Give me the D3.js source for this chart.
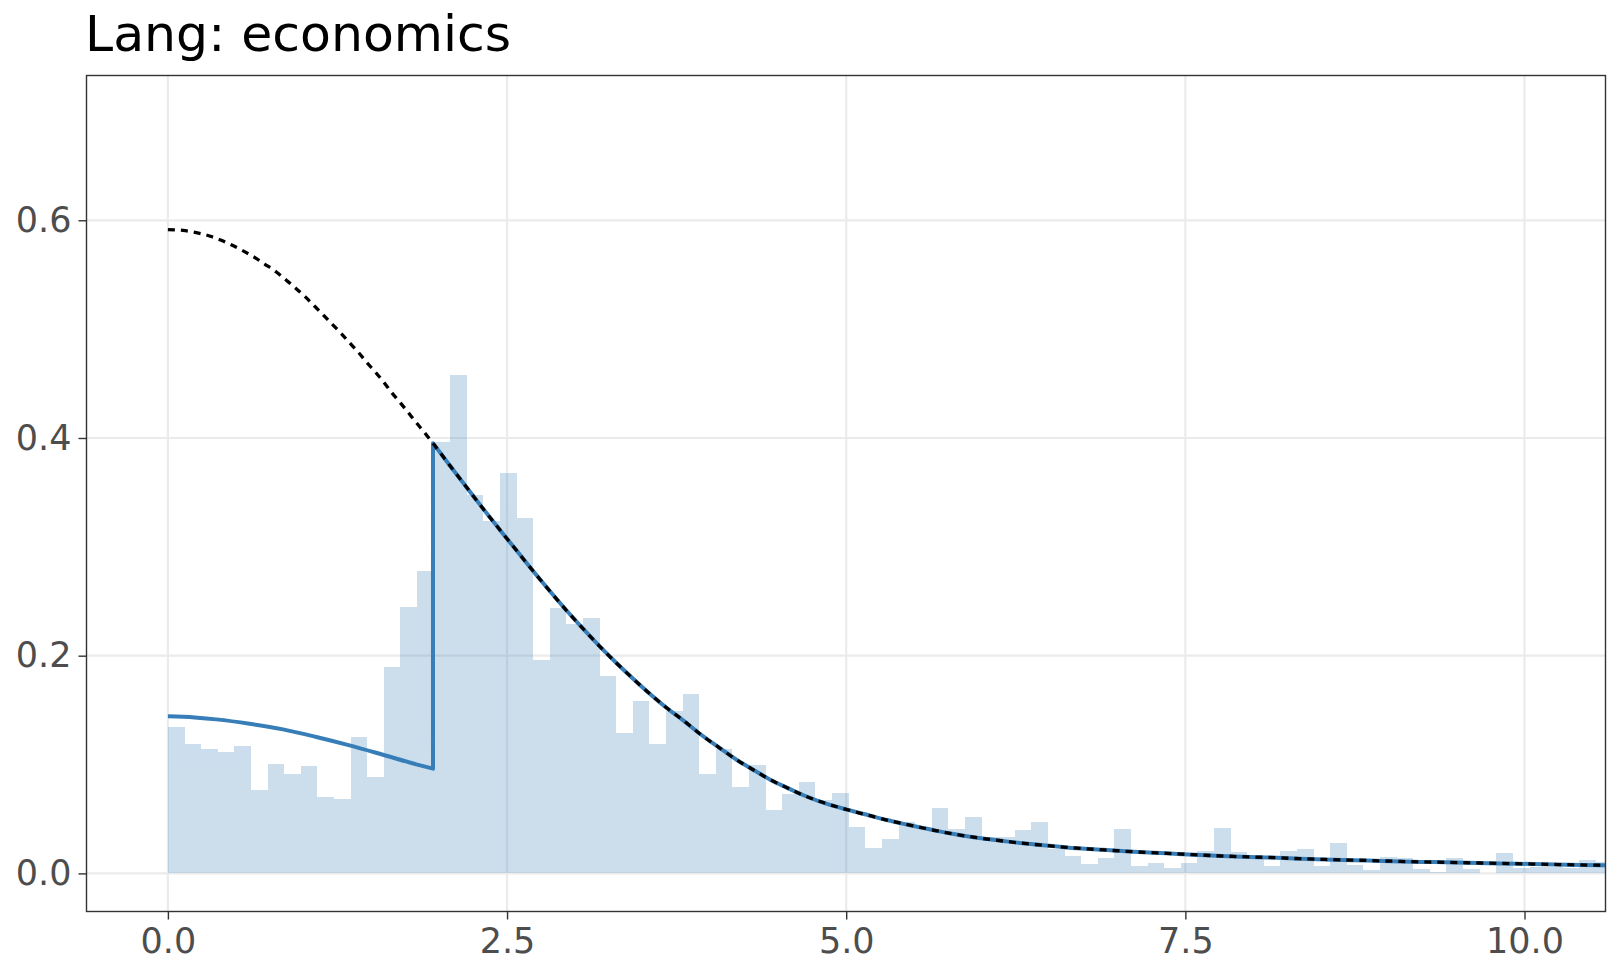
<!DOCTYPE html>
<html lang="en">
<head>
<meta charset="UTF-8">
<title>Lang: economics</title>
<script src="https://d3js.org/d3.v7.min.js"></script>
<style>
    body { margin: 0; background: #fff; }
    svg { display: block; font-family: "DejaVu Sans", sans-serif; }
    .axis path { display: none; }
    .axis line { stroke: #333333; stroke-width: 1.4px; }
    .axis text { fill: #4D4D4D; font-size: 35px; font-family: "DejaVu Sans", sans-serif; }
    .grid line { stroke: #EBEBEB; stroke-width: 2.2px; }
</style>
</head>
<body>
<script>
// histogram heights (density), one per bin starting at 0
const binWidth = 0.1224;
const histDensity = [
    0.1345, 0.1185, 0.1142, 0.1112, 0.1167, 0.0763, 0.1002, 0.0910, 0.0983, 0.0698,
    0.0680, 0.1250, 0.0885, 0.1893, 0.2447, 0.2778, 0.3960, 0.4579, 0.3473, 0.3234,
    0.3675, 0.3262, 0.1957, 0.2438, 0.2288, 0.2346, 0.1810, 0.1286, 0.1583, 0.1185,
    0.1492, 0.1645, 0.0917, 0.1147, 0.0798, 0.1000, 0.0587, 0.0734, 0.0841, 0.0670,
    0.0740, 0.0428, 0.0236, 0.0318, 0.0474, 0.0410, 0.0603, 0.0410, 0.0520, 0.0330,
    0.0334, 0.0398, 0.0472, 0.0221, 0.0159, 0.0086, 0.0141, 0.0407, 0.0067, 0.0095,
    0.0049, 0.0095, 0.0205, 0.0417, 0.0196, 0.0159, 0.0070, 0.0205, 0.0224, 0.0070,
    0.0279, 0.0080, 0.0034, 0.0150, 0.0138, 0.0043, 0.0009, 0.0141, 0.0043, 0.0006,
    0.0187, 0.0046, 0.0058, 0.0058, 0.0052, 0.0123, 0.0104
];

// dotted reference density
const fullX = [
    0, 0.111, 0.209, 0.307, 0.393, 0.479, 0.565, 0.639, 0.713, 0.799,
    0.873, 0.946, 1.013, 1.082, 1.143, 1.212, 1.278, 1.340, 1.406, 1.468,
    1.529, 1.586, 1.642, 1.704, 1.765, 1.827, 1.888, 1.954, 2.077, 2.200,
    2.323, 2.446, 2.569, 2.692, 2.815, 2.937, 3.060, 3.183, 3.306, 3.429,
    3.552, 3.675, 3.798, 3.921, 4.071, 4.194, 4.317, 4.440, 4.562, 4.685,
    4.808, 5.000, 5.177, 5.300, 5.423, 5.546, 5.669, 5.792, 5.914, 6.037,
    6.160, 6.283, 6.379, 6.625, 6.870, 7.116, 7.362, 7.608, 7.854, 8.100,
    8.345, 8.591, 8.837, 9.083, 9.328, 9.574, 9.820, 10.066, 10.312, 10.597
];
const fullY = [
    0.5914, 0.5907, 0.5887, 0.5856, 0.5817, 0.5768, 0.5712, 0.5659, 0.5598, 0.5525,
    0.5449, 0.5372, 0.5296, 0.5210, 0.5133, 0.5044, 0.4959, 0.4873, 0.4784, 0.4692,
    0.4606, 0.4521, 0.4429, 0.4337, 0.4245, 0.4147, 0.4055, 0.3952, 0.3749, 0.3550,
    0.3351, 0.3158, 0.2968, 0.2778, 0.2594, 0.2417, 0.2248, 0.2086, 0.1933, 0.1789,
    0.1651, 0.1522, 0.1406, 0.1283, 0.1149, 0.1042, 0.0950, 0.0861, 0.0788, 0.0718,
    0.0660, 0.0588, 0.0530, 0.0490, 0.0455, 0.0423, 0.0391, 0.0362, 0.0337, 0.0316,
    0.0297, 0.0279, 0.0267, 0.0239, 0.0218, 0.0199, 0.0184, 0.0169, 0.0156, 0.0147,
    0.0135, 0.0126, 0.0119, 0.0110, 0.0104, 0.0098, 0.0092, 0.0086, 0.0080, 0.0074
];

// fitted density below the cut point (blue)
const cutPoint = 1.954;
const lowX = [0, 0.110, 0.356, 0.602, 0.848, 1.094, 1.339, 1.585, 1.831, 1.954];
const lowY = [0.1443, 0.1440, 0.1415, 0.1375, 0.1323, 0.1253, 0.1176, 0.1090, 0.1002, 0.0962];

const xTicks = [0, 2.5, 5, 7.5, 10];
const xTickLabels = ["0.0", "2.5", "5.0", "7.5", "10.0"];
const yTicks = [0, 0.2, 0.4, 0.6];
const yTickLabels = ["0.0", "0.2", "0.4", "0.6"];

const width = 1620, height = 972;
const panel = {left: 86.5, right: 1605.5, top: 75.5, bottom: 911.5};

const svg = d3.select("body").append("svg")
    .attr("width", width)
    .attr("height", height)
    .attr("viewBox", `0 0 ${width} ${height}`);

const x = d3.scaleLinear().domain([-0.6, 10.597]).range([panel.left, panel.right]);
const y = d3.scaleLinear().domain([-0.035, 0.733]).range([panel.bottom, panel.top]);

svg.append("defs").append("clipPath").attr("id", "panelClip")
    .append("rect")
    .attr("x", panel.left).attr("y", panel.top)
    .attr("width", panel.right - panel.left)
    .attr("height", panel.bottom - panel.top);

// gridlines
const grid = svg.append("g").attr("class", "grid");
grid.selectAll(".gx").data(xTicks).enter().append("line")
    .attr("x1", d => x(d)).attr("x2", d => x(d))
    .attr("y1", panel.top).attr("y2", panel.bottom);
grid.selectAll(".gy").data(yTicks).enter().append("line")
    .attr("x1", panel.left).attr("x2", panel.right)
    .attr("y1", d => y(d)).attr("y2", d => y(d));

const plot = svg.append("g").attr("clip-path", "url(#panelClip)");

// histogram
plot.append("g")
    .attr("opacity", 0.25)
    .selectAll("rect")
    .data(histDensity)
    .enter()
    .append("rect")
    .attr("shape-rendering", "crispEdges")
    .attr("fill", "#377EB8")
    .attr("x", (d, i) => x(i * binWidth))
    .attr("width", (d, i) => x((i + 1) * binWidth) - x(i * binWidth))
    .attr("y", d => y(d))
    .attr("height", d => y(0) - y(d));

const lineGen = d3.line()
    .x(d => x(d[0]))
    .y(d => y(d[1]))
    .curve(d3.curveMonotoneX);

const fullPts = fullX.map((v, i) => [v, fullY[i]]);
const lowPts = lowX.map((v, i) => [v, lowY[i]]);
const highPts = fullPts.filter(p => p[0] >= cutPoint);

// blue: lower branch, jump at the cut, then upper branch
const bluePath = lineGen(lowPts) + lineGen(highPts).replace(/^M/, "L");
plot.append("path")
    .attr("d", bluePath)
    .attr("fill", "none")
    .attr("stroke", "#377EB8")
    .attr("stroke-width", 4)
    .attr("stroke-linejoin", "round");

plot.append("path")
    .attr("d", lineGen(fullPts))
    .attr("fill", "none")
    .attr("stroke", "#000")
    .attr("stroke-width", 3.3)
    .attr("stroke-dasharray", "7,6");

// panel border
svg.append("rect")
    .attr("x", panel.left).attr("y", panel.top)
    .attr("width", panel.right - panel.left)
    .attr("height", panel.bottom - panel.top)
    .attr("fill", "none")
    .attr("stroke", "#333333")
    .attr("stroke-width", 1.4);

// axes
svg.append("g").attr("class", "axis")
    .attr("transform", `translate(0,${panel.bottom})`)
    .call(d3.axisBottom(x).tickValues(xTicks)
        .tickFormat((d, i) => xTickLabels[i])
        .tickSize(8).tickPadding(9));

svg.append("g").attr("class", "axis")
    .attr("transform", `translate(${panel.left},0)`)
    .call(d3.axisLeft(y).tickValues(yTicks)
        .tickFormat((d, i) => yTickLabels[i])
        .tickSize(8).tickPadding(7));

// title
svg.append("text")
    .attr("x", 85)
    .attr("y", 50.7)
    .attr("font-size", "50.5px")
    .attr("fill", "#000")
    .text("Lang: economics");
</script>
</body>
</html>
